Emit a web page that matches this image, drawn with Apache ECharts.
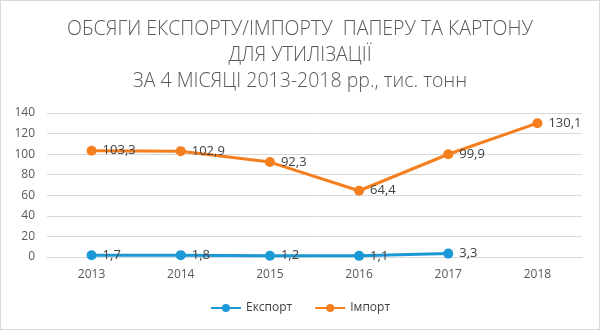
<!DOCTYPE html>
<html>
<head>
<meta charset="utf-8">
<script src="https://cdn.jsdelivr.net/npm/echarts@6/dist/echarts.min.js"></script>
<style>
  html, body { margin: 0; padding: 0; background: #fff; }
  #chart { width: 600px; height: 330px; box-sizing: border-box; border: 1px solid #d9d9d9; }
</style>
</head>
<body>
<div id="chart"></div>
<script>
// Paper and cardboard for recycling, Jan–Apr volumes, thousand tonnes
const years = ['2013', '2014', '2015', '2016', '2017', '2018'];
const exportValues = [1.7, 1.8, 1.2, 1.1, 3.3, null];
const importValues = [103.3, 102.9, 92.3, 64.4, 99.9, 130.1];
const yTicks = { min: 0, max: 140, interval: 20 };

const titleLines = [
  'ОБСЯГИ ЕКСПОРТУ/ІМПОРТУ  ПАПЕРУ ТА КАРТОНУ',
  'ДЛЯ УТИЛІЗАЦІЇ',
  'ЗА 4 МІСЯЦІ 2013-2018 рр., тис. тонн'
];

const fmt = v => String(v).replace('.', ',');

const chart = echarts.init(document.getElementById('chart'), null, { renderer: 'canvas' });

const labelStyle = {
  show: true,
  position: 'right',
  distance: 6,
  fontFamily: 'Open Sans, sans-serif',
  fontSize: 13,
  color: '#404040',
  formatter: p => fmt(p.value)
};

chart.setOption({
  animation: false,
  title: {
    text: titleLines.join('\n'),
    left: 'center',
    top: 10,
    textStyle: {
      fontFamily: 'Open Sans, sans-serif',
      fontWeight: 300,
      fontSize: 19.5,
      lineHeight: 26,
      color: '#595959'
    }
  },
  legend: {
    bottom: 10,
    left: 'center',
    itemWidth: 30,
    itemHeight: 10,
    itemGap: 22,
    textStyle: { fontFamily: 'Open Sans, sans-serif', fontSize: 12, color: '#404040' },
    data: ['Експорт', 'Імпорт']
  },
  grid: { left: 46, right: 17, top: 112, bottom: 72, containLabel: false },
  xAxis: {
    type: 'category',
    data: years,
    boundaryGap: true,
    axisLine: { show: true, lineStyle: { color: '#d9d9d9' } },
    axisTick: { show: false },
    axisLabel: { fontFamily: 'Open Sans, sans-serif', fontSize: 12, color: '#595959', margin: 12 }
  },
  yAxis: {
    type: 'value',
    min: yTicks.min,
    max: yTicks.max,
    interval: yTicks.interval,
    axisLine: { show: false },
    axisTick: { show: false },
    splitLine: { lineStyle: { color: '#d9d9d9' } },
    axisLabel: { fontFamily: 'Open Sans, sans-serif', fontSize: 12, color: '#595959', margin: 12 }
  },
  series: [
    {
      name: 'Експорт',
      type: 'line',
      data: exportValues,
      color: '#1b98d6',
      symbol: 'circle',
      symbolSize: 10,
      lineStyle: { width: 3 },
      label: labelStyle,
      z: 3
    },
    {
      name: 'Імпорт',
      type: 'line',
      data: importValues,
      color: '#f57f1f',
      symbol: 'circle',
      symbolSize: 10,
      lineStyle: { width: 3 },
      label: labelStyle,
      z: 2
    }
  ]
});
</script>
</body>
</html>
